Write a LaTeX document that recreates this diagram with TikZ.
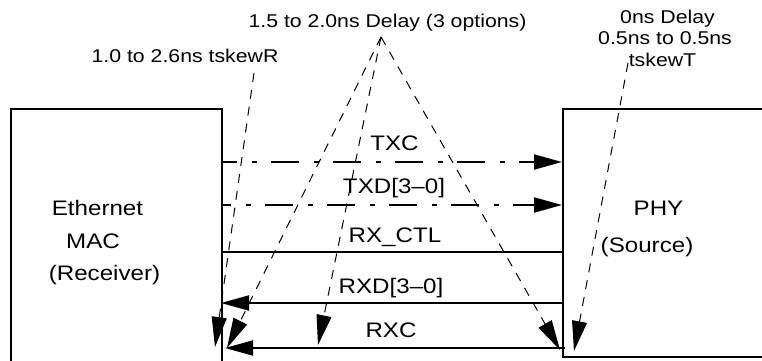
\documentclass[tikz,border=0pt]{standalone}
\usepackage{fontspec}
\setmainfont{Liberation Sans}
\usetikzlibrary{arrows.meta}
% text is set slightly wide
\newcommand{\wideText}[1]{\scalebox{1.15}[1]{#1}}

\tikzset{
  block/.style={draw, line width=2pt, inner sep=0pt, anchor=north west},
  sig/.style={line width=2pt},
  sigtip/.style={-{Triangle[length=28pt,width=15pt]}},
  txdash/.style={dash pattern=on 28pt off 15pt on 5pt off 14pt},
  delay/.style={line width=1pt, dash pattern=on 9pt off 8pt,
                -{Triangle[length=30pt,width=15pt]}},
  note/.style={font=\fontsize{18.5}{21}\selectfont, inner sep=0pt, anchor=base},
  lbl/.style={font=\fontsize{21}{24}\selectfont, inner sep=0pt, anchor=base},
}

\begin{document}
\begin{tikzpicture}[x=1pt, y=-1pt]
  \useasboundingbox (0,0) rectangle (762,360);

  % the two devices
  \node[block, minimum width=211pt, minimum height=300pt] (mac) at (10,108) {};
  \node[block, minimum width=260pt, minimum height=248pt] (phy) at (562,108) {};

  \node[lbl] (macA) at (97.5,215) {\wideText{Ethernet}};
  \node[lbl] (macB) at (93,248) {\wideText{MAC}};
  \node[lbl] (macC) at (104.5,280) {\wideText{(Receiver)}};
  \node[lbl] (phyA) at (658.5,215) {\wideText{PHY}};
  \node[lbl] (phyB) at (647,252) {\wideText{(Source)}};

  % signal end points
  \coordinate (txcL) at (221,162);  \coordinate (txcR) at (562,162);
  \coordinate (txdL) at (221,205);  \coordinate (txdR) at (562,205);
  \coordinate (ctlL) at (221,252);  \coordinate (ctlR) at (562,252);
  \coordinate (rxdL) at (221,303);  \coordinate (rxdR) at (562,303);
  \coordinate (rxcL) at (225,348);  \coordinate (rxcR) at (565,348);

  % signals
  \draw[sig, txdash, dash phase=12pt, sigtip] (txcL) -- (txcR);
  \draw[sig, txdash, dash phase=18pt, sigtip] (txdL) -- (txdR);
  \draw[sig] (ctlL) -- (ctlR);
  \draw[sig, sigtip] (rxdR) -- (rxdL);
  \draw[sig, sigtip] (rxcR) -- (rxcL);

  \node[lbl] (txc) at (394.5,150) {\wideText{TXC}};
  \node[lbl] (txd) at (394,193) {\wideText{TXD[3\textendash0]}};
  \node[lbl] (ctl) at (395,242) {\wideText{RX\_CTL}};
  \node[lbl] (rxd) at (391,293) {\wideText{RXD[3\textendash0]}};
  \node[lbl] (rxc) at (391,337) {\wideText{RXC}};

  % timing notes
  \node[note] (delayNote) at (387.5,27) {\wideText{1.5 to 2.0ns Delay (3 options)}};
  \node[note] (skewR) at (185,62) {\wideText{1.0 to 2.6ns tskewR}};
  \node[note] (skewTa) at (667.5,23) {\wideText{0ns Delay}};
  \node[note] (skewTb) at (665,44) {\wideText{0.5ns to 0.5ns}};
  \node[note] (skewTc) at (662.5,66) {\wideText{tskewT}};

  \coordinate (rTop) at (254,73);   \coordinate (rTip) at (215,347);
  \coordinate (dTop) at (381,37);
  \coordinate (dTipA) at (227,348);
  \coordinate (dTipB) at (318,345);
  \coordinate (dTipC) at (560,350);
  \coordinate (tTop) at (628,63);   \coordinate (tTip) at (574,351);

  \draw[delay] (rTop) -- (rTip);
  \draw[delay] (dTop) -- (dTipA);
  \draw[delay] (dTop) -- (dTipB);
  \draw[delay] (dTop) -- (dTipC);
  \draw[delay] (tTop) -- (tTip);
\end{tikzpicture}
\end{document}
